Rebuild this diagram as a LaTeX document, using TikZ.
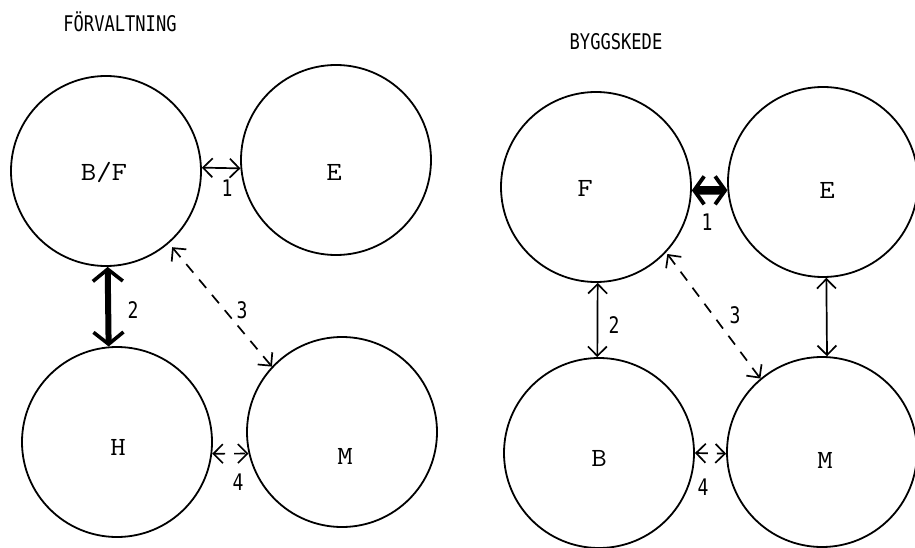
\documentclass[tikz,border=0pt]{standalone}
\usepackage{fontspec}
\usepackage{graphicx}
\usetikzlibrary{arrows.meta}
\newfontfamily\labelfont{DejaVu Sans Mono}
\newcommand\partytext[1]{\scalebox{1.2}[1.05]{#1}}
\newcommand\tall[1]{\scalebox{0.95}[1.2]{#1}}
\begin{document}
\begin{tikzpicture}[x=1pt,y=-1pt,
  party/.style={circle, draw, line width=1.8pt, minimum size=190pt, inner sep=0pt},
  partyname/.style={font=\ttfamily\fontsize{25}{25}\selectfont},
  heading/.style={font=\labelfont\fontsize{18}{18}\selectfont},
  num/.style={font=\labelfont\fontsize{19}{19}\selectfont},
  link/.style={line width=1.7pt, {Straight Barb[length=9.5pt,width=19pt,line width=1.7pt]}-{Straight Barb[length=9.5pt,width=19pt,line width=1.7pt]}},
  strong/.style={line width=6pt, {Straight Barb[length=12pt,width=30pt,line width=3.6pt]}-{Straight Barb[length=12pt,width=30pt,line width=3.6pt]}},
  stronger/.style={line width=8.5pt, {Straight Barb[length=10pt,width=28pt,line width=3.8pt]}-{Straight Barb[length=10pt,width=28pt,line width=3.8pt]}},
  weak/.style={link, dash pattern=on 11pt off 9pt},
]
\useasboundingbox (0,0) rectangle (915,548);

% ---------- Förvaltning ----------
\node[heading] (t1) at (120,22) {\tall{FÖRVALTNING}};
\node[party] (BF) at (106,171) {};
\node[party] (E1) at (336,160) {};
\node[party] (H)  at (117,442) {};
\node[party] (M1) at (342,432) {};
\node[partyname] (nBF) at (104,172) {\partytext{B/F}};
\node[partyname] (nE1) at (334,172) {\partytext{E}};
\node[partyname] (nH)  at (118,447) {\partytext{H}};
\node[partyname] (nM1) at (345,456) {\partytext{M}};

\draw[link]   (BF.2) -- (E1.185);
\draw[strong] (BF.-89) -- (H.95);
\draw[weak, shorten <=5pt] (BF.-49) -- (M1.137);
\draw[weak]   (H.-7) -- (M1.193);

\node[num] (a1) at (227,188) {\tall{1}};
\node[num] (a2) at (133,310) {\tall{2}};
\node[num] (a3) at (242,310) {\tall{3}};
\node[num] (a4) at (238,482) {\tall{4}};

% ---------- Byggskede ----------
\node[heading] (t2) at (616,42) {\tall{BYGGSKEDE}};
\node[party] (F)  at (596,187) {};
\node[party] (E2) at (823,182) {};
\node[party] (B)  at (599,453) {};
\node[party] (M2) at (822,452) {};
\node[partyname] (nF)  at (585,188) {\partytext{F}};
\node[partyname] (nE2) at (827,190) {\partytext{E}};
\node[partyname] (nB)  at (599,458) {\partytext{B}};
\node[partyname] (nM2) at (825,460) {\partytext{M}};

\draw[stronger] (F.-2) -- (E2.185);
\draw[link]   (F.-89) -- (B.91);
\draw[link]   (E2.-88) -- (M2.87);
\draw[weak, shorten <=2pt] (F.-43) -- (M2.130);
\draw[weak]   (B.0) -- (M2.181);

\node[num] (b1) at (707,222) {\tall{1}};
\node[num] (b2) at (614,325) {\tall{2}};
\node[num] (b3) at (735,315) {\tall{3}};
\node[num] (b4) at (703,487) {\tall{4}};
\end{tikzpicture}
\end{document}
